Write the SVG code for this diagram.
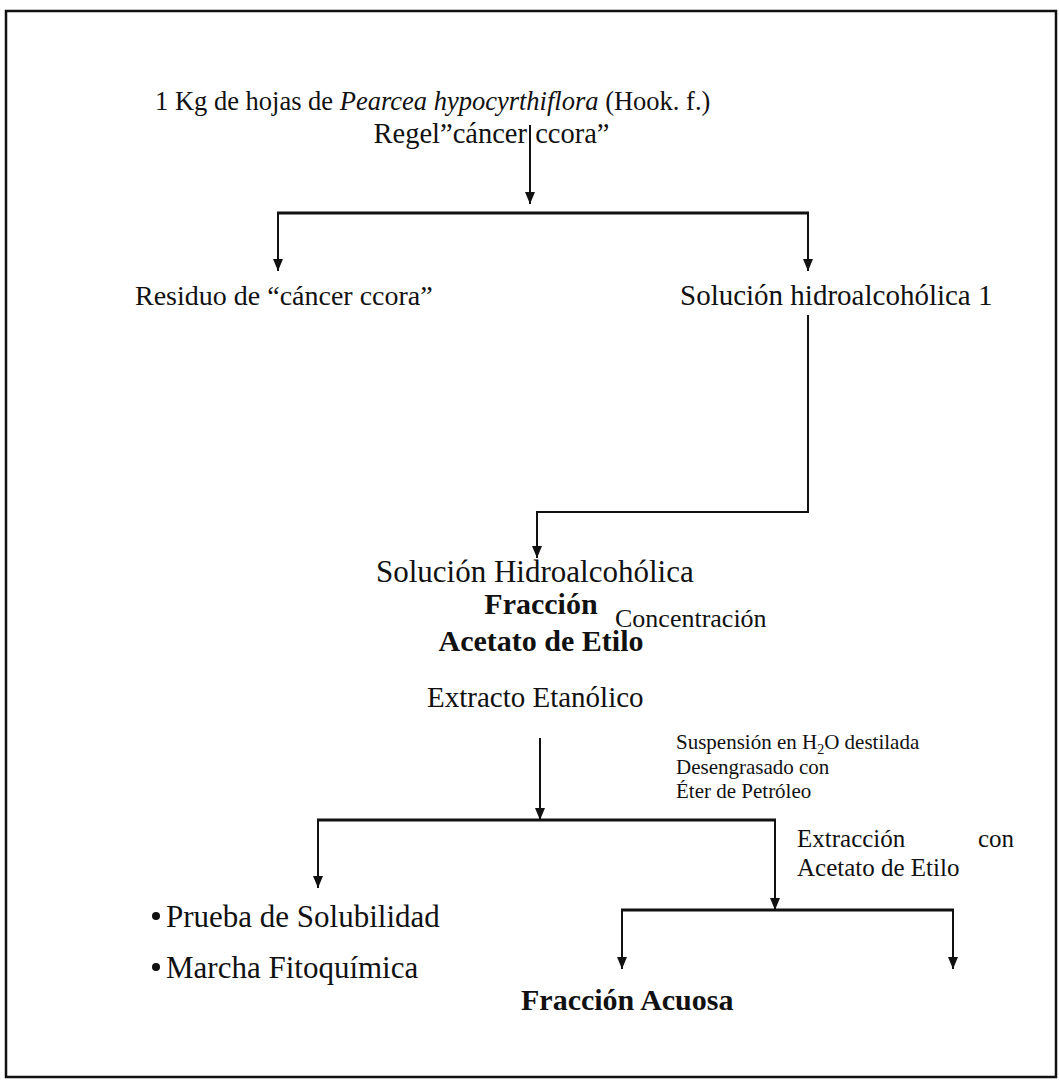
<svg xmlns="http://www.w3.org/2000/svg" width="1059" height="1080" viewBox="0 0 1059 1080">
<defs>
<marker id="ah" markerUnits="userSpaceOnUse" markerWidth="12" markerHeight="10" refX="12" refY="5" orient="auto" viewBox="0 0 12 10">
<path d="M0,0 L12,5 L0,10 Z" fill="#111"/>
</marker>
<style>
.t{font-family:"Liberation Serif","Times New Roman",serif;fill:#111;}
.b{font-weight:bold;}
.f265{font-size:26.5px;}
.f28{font-size:28px;}
.f285{font-size:28.5px;}
.f29{font-size:29px;}
.f30{font-size:30px;}
.f31{font-size:31px;}
.f21{font-size:21px;}
.f25{font-size:25px;}
.f26{font-size:26px;}
.ln{stroke:#111;stroke-width:2;fill:none;}
.bar{stroke:#111;stroke-width:3;fill:none;}
.arr{stroke:#111;stroke-width:2;fill:none;marker-end:url(#ah);}
</style>
</defs>
<rect x="0" y="0" width="1059" height="1080" fill="#fff"/>
<rect x="6" y="11" width="1050" height="1066" fill="none" stroke="#111" stroke-width="2.5"/>

<g id="connectors">
<line class="arr" x1="530" y1="125" x2="530" y2="204"/>
<line class="bar" x1="277" y1="213" x2="809" y2="213"/>
<line class="arr" x1="278" y1="213" x2="278" y2="271"/>
<line class="arr" x1="808" y1="213" x2="808" y2="271"/>
<path class="arr" d="M808,315 V512 H537 V558"/>
<line class="arr" x1="540" y1="738" x2="540" y2="820"/>
<line class="bar" x1="317" y1="820" x2="776" y2="820"/>
<line class="arr" x1="318" y1="820" x2="318" y2="888"/>
<line class="arr" x1="775" y1="820" x2="775" y2="910"/>
<line class="bar" x1="621" y1="910" x2="954" y2="910"/>
<line class="arr" x1="622" y1="910" x2="622" y2="969"/>
<line class="arr" x1="953" y1="910" x2="953" y2="969"/>
</g>

<g id="node-hojas">
<text class="t f265" x="155" y="110">1 Kg de hojas de <tspan font-style="italic">Pearcea hypocyrthiflora</tspan> (Hook. f.)</text>
<text class="t f285"><tspan x="527" y="143" text-anchor="end">Regel”cáncer</tspan><tspan x="528" y="143"> ccora”</tspan></text>
</g>

<g id="node-residuo">
<text class="t f28" x="135" y="305">Residuo de “cáncer ccora”</text>
</g>

<g id="node-solucion1">
<text class="t f29" x="680" y="305">Solución hidroalcohólica 1</text>
</g>

<g id="node-solucion-hidro">
<text class="t f31" x="376" y="582">Solución Hidroalcohólica</text>
<text class="t b f30" x="541" y="614" text-anchor="middle">Fracción</text>
<text class="t b f30" x="541" y="651" text-anchor="middle">Acetato de Etilo</text>
</g>

<g id="label-concentracion">
<text class="t f26" x="615" y="627">Concentración</text>
</g>

<g id="node-extracto">
<text class="t f29" x="427" y="707">Extracto Etanólico</text>
</g>

<g id="label-suspension">
<text class="t f21" x="676" y="749">Suspensión en H<tspan font-size="14" dy="5">2</tspan><tspan dy="-5">O destilada</tspan></text>
<text class="t f21" x="676" y="774">Desengrasado con</text>
<text class="t f21" x="676" y="798">Éter de Petróleo</text>
</g>

<g id="label-extraccion">
<text class="t f25" x="797" y="847">Extracción</text>
<text class="t f25" x="1014" y="847" text-anchor="end">con</text>
<text class="t f25" x="797" y="876">Acetato de Etilo</text>
</g>

<g id="node-pruebas">
<circle cx="156" cy="916" r="4" fill="#111"/>
<text class="t f31" x="166" y="927">Prueba de Solubilidad</text>
<circle cx="156" cy="967" r="4" fill="#111"/>
<text class="t f31" x="166" y="978">Marcha Fitoquímica</text>
</g>

<g id="node-acuosa">
<text class="t b f30" x="521" y="1010">Fracción Acuosa</text>
</g>
</svg>
